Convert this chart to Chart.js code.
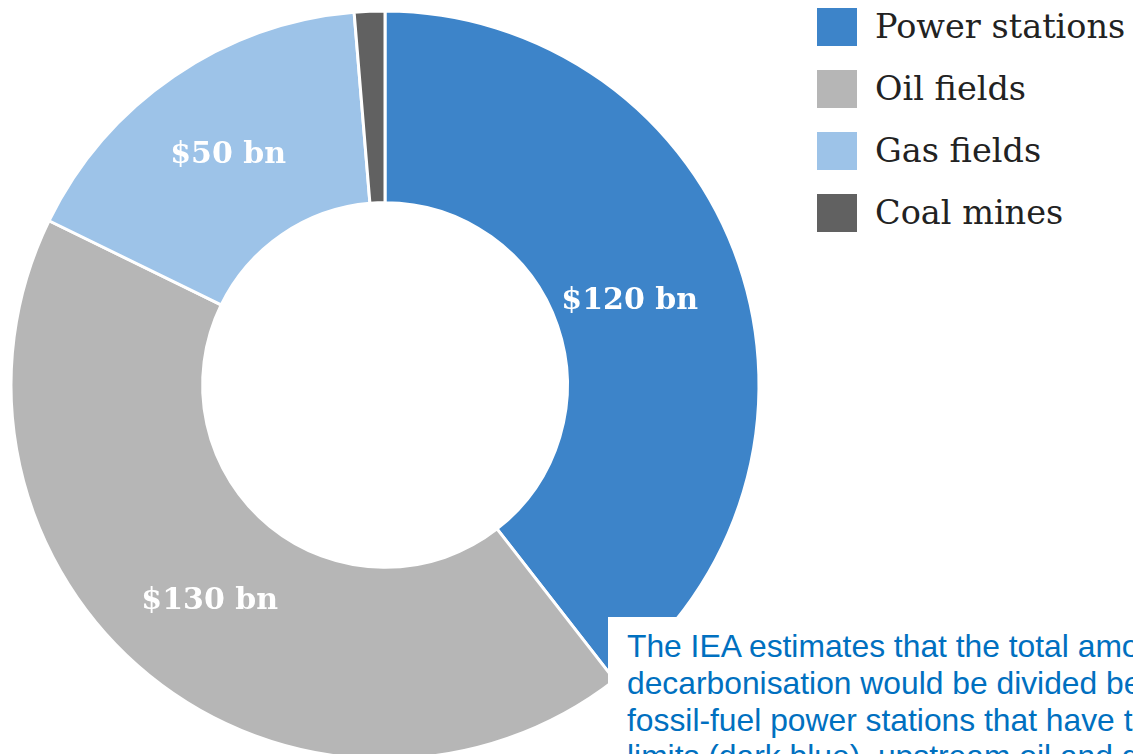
<!DOCTYPE html>
<html>
<head>
<meta charset="utf-8">
<script src="https://cdn.jsdelivr.net/npm/chart.js@4.4.1/dist/chart.umd.min.js"></script>
<style>
  html, body { margin: 0; padding: 0; background: #fff; width: 1133px; height: 754px; overflow: hidden; position: relative; }
  #wrap { position: absolute; left: 0; top: 0; width: 770px; height: 770px; }
  #legend { position: absolute; left: 817px; top: 8px; }
  .row { position: absolute; left: 0; height: 38px; white-space: nowrap; }
  .sw { position: absolute; left: 0; top: 0; width: 40px; height: 38px; }
  .lt { position: absolute; left: 58px; top: 0; line-height: 38px; font-family: "DejaVu Serif", serif; font-size: 33.5px; color: #222; }
  #note { position: absolute; left: 608px; top: 617px; right: 0; bottom: 0; background: #fff; padding: 11px 0 0 19px; box-sizing: border-box; overflow: hidden; }
  #note div { white-space: nowrap; font-family: "Liberation Sans", Arial, sans-serif; font-size: 31.8px; line-height: 36.8px; color: #0070c0; }
</style>
</head>
<body>
<div id="wrap"><canvas id="c" width="770" height="770"></canvas></div>
<div id="legend"></div>
<div id="note"></div>
<script>
const categories = ["Power stations", "Oil fields", "Gas fields", "Coal mines"];
const values = [120, 130, 50, 4];
const sliceLabels = ["$120 bn", "$130 bn", "$50 bn", ""];
const colors = ["#3d84c9", "#b6b6b6", "#9dc3e8", "#616161"];
const noteLines = [
  "The IEA estimates that the total amount of stranded assets resulting from",
  "decarbonisation would be divided between",
  "fossil-fuel power stations that have to close early to meet emission",
  "limits (dark blue), upstream oil and gas fields and coal mines"
];

// label placement (fraction of the ring's mid radius), style only
const labelRadiusScale = [0.93, 1, 1, 1];

const labelPlugin = {
  id: 'sliceLabels',
  afterDatasetsDraw(chart) {
    const ctx = chart.ctx;
    const meta = chart.getDatasetMeta(0);
    ctx.save();
    ctx.font = 'bold 30px "DejaVu Serif", serif';
    ctx.fillStyle = '#ffffff';
    ctx.textAlign = 'center';
    ctx.textBaseline = 'middle';
    meta.data.forEach((arc, i) => {
      const t = sliceLabels[i];
      if (!t) return;
      const pr = arc.getProps(['x', 'y', 'startAngle', 'endAngle', 'innerRadius', 'outerRadius']);
      const a = (pr.startAngle + pr.endAngle) / 2;
      const r = (pr.innerRadius + pr.outerRadius) / 2 * labelRadiusScale[i];
      ctx.fillText(t, pr.x + Math.cos(a) * r, pr.y + Math.sin(a) * r);
    });
    ctx.restore();
  }
};

new Chart(document.getElementById('c'), {
  type: 'doughnut',
  data: {
    labels: categories,
    datasets: [{
      data: values,
      backgroundColor: colors,
      borderColor: '#ffffff',
      borderWidth: 3,
      hoverOffset: 0
    }]
  },
  options: {
    responsive: false,
    animation: false,
    radius: 374,
    cutout: 187,
    layout: { padding: 0 },
    plugins: { legend: { display: false }, tooltip: { enabled: false } }
  },
  plugins: [labelPlugin]
});

const legend = document.getElementById('legend');
categories.forEach((c, i) => {
  const row = document.createElement('div');
  row.className = 'row';
  row.style.top = (i * 62) + 'px';
  const sw = document.createElement('div');
  sw.className = 'sw';
  sw.style.background = colors[i];
  const lt = document.createElement('div');
  lt.className = 'lt';
  lt.textContent = c;
  row.appendChild(sw);
  row.appendChild(lt);
  legend.appendChild(row);
});

const note = document.getElementById('note');
noteLines.forEach(l => {
  const d = document.createElement('div');
  d.textContent = l;
  note.appendChild(d);
});
</script>
</body>
</html>
